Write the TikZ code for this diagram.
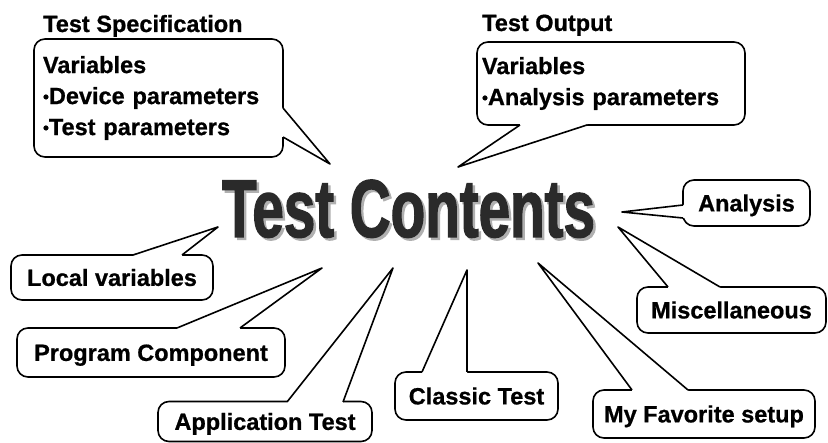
\documentclass[tikz,border=0pt]{standalone}
\usepackage{fontspec}
\setmainfont[BoldFeatures={FakeBold=0.8}]{Liberation Sans}
\newfontfamily\titlefont[FakeStretch=0.69,FakeBold=1.5]{Liberation Sans Bold}
\usetikzlibrary{calc}
\definecolor{titlegray}{HTML}{2A2A2A}
\definecolor{shadowgray}{HTML}{B0B0B0}
\newcommand\calltail[4]{%
  \fill[white] ($(#1)+(#4)$) -- (#1) -- (#2) -- (#3) -- ($(#3)+(#4)$) -- cycle;
  \draw[cline] (#1) -- (#2) -- (#3);}
\newcommand\bul{{\fontsize{17}{17}\selectfont\raisebox{1.5pt}{•}}}
\begin{document}
\begin{tikzpicture}[x=1pt,y=-1pt,
  cline/.style={line width=1.6pt, line join=round},
  bodyfont/.style={font=\bfseries\fontsize{23.5}{31}\selectfont},
  callout/.style={draw, line width=1.6pt, fill=white, rounded corners=11pt,
    inner sep=0pt, bodyfont},
  oneline/.style={callout, text height=16.8pt, text depth=0pt},
  titletext/.style={font=\titlefont\fontsize{82}{82}\selectfont, anchor=base, inner sep=0pt}]
\fill[white] (0,0) rectangle (828,443);
\useasboundingbox (0,0) rectangle (828,443);

% title with its drop shadow
\node[titletext, text=titlegray] (title) at (408.5,237)
  {\rlap{\kern2.5pt\raisebox{-2.5pt}{\color{shadowgray}Test Contents}}Test Contents};

% headings
\node[bodyfont, anchor=base west, inner sep=0pt] (lblspec) at (43,32) {Test Specification};
\node[bodyfont, anchor=base west, inner sep=0pt] (lblout) at (482,31) {Test Output};

% callout boxes
\node[callout, minimum width=249pt, minimum height=118pt, text width=231pt, align=left]
  (spec) at (158.5,98) {Variables\\\bul Device parameters\\\bul Test parameters};
\node[callout, minimum width=268pt, minimum height=83pt, text width=258pt, align=left]
  (out) at (611,83.5) {Variables\\\bul Analysis parameters};
\node[oneline, minimum width=127pt, minimum height=46pt] (ana) at (746.5,203) {Analysis};
\node[oneline, minimum width=189pt, minimum height=46pt] (misc) at (731.5,310) {Miscellaneous};
\node[oneline, minimum width=163pt, minimum height=48pt] (classic) at (476.5,396) {Classic Test};
\node[oneline, minimum width=222pt, minimum height=48pt] (fav) at (704,414) {My Favorite setup};
\node[oneline, minimum width=202pt, minimum height=45pt] (loc) at (112,277.5) {Local variables};
\node[oneline, minimum width=268pt, minimum height=49pt] (prog) at (151,352.5) {Program Component};
\node[oneline, minimum width=214pt, minimum height=40pt] (app) at (265,421.5) {Application Test};

% tails
\coordinate (aSpec) at (283,108); \coordinate (tSpec) at (330,164); \coordinate (bSpec) at (283,137);
\coordinate (aOut) at (520,125); \coordinate (tOut) at (458,167); \coordinate (bOut) at (587,125);
\coordinate (aAna) at (683,205); \coordinate (tAna) at (622,212); \coordinate (bAna) at (683,218);
\coordinate (aMisc) at (668,287); \coordinate (tMisc) at (618,227); \coordinate (bMisc) at (720,287);
\coordinate (aCla) at (422,372); \coordinate (tCla) at (467,270); \coordinate (bCla) at (467,372);
\coordinate (aFav) at (632,390); \coordinate (tFav) at (538,263); \coordinate (bFav) at (688,390);
\coordinate (aLoc) at (133,255); \coordinate (tLoc) at (218,227); \coordinate (bLoc) at (182,255);
\coordinate (aProg) at (177,328); \coordinate (tProg) at (322,268); \coordinate (bProg) at (240,328);
\coordinate (aApp) at (287,402); \coordinate (tApp) at (393,268); \coordinate (bApp) at (343,402);

\calltail{aSpec}{tSpec}{bSpec}{-4,0}
\calltail{aOut}{tOut}{bOut}{0,-4}
\calltail{aAna}{tAna}{bAna}{4,0}
\calltail{aMisc}{tMisc}{bMisc}{0,4}
\calltail{aCla}{tCla}{bCla}{0,4}
\calltail{aFav}{tFav}{bFav}{0,4}
\calltail{aLoc}{tLoc}{bLoc}{0,4}
\calltail{aProg}{tProg}{bProg}{0,4}
\calltail{aApp}{tApp}{bApp}{0,4}
\end{tikzpicture}
\end{document}
